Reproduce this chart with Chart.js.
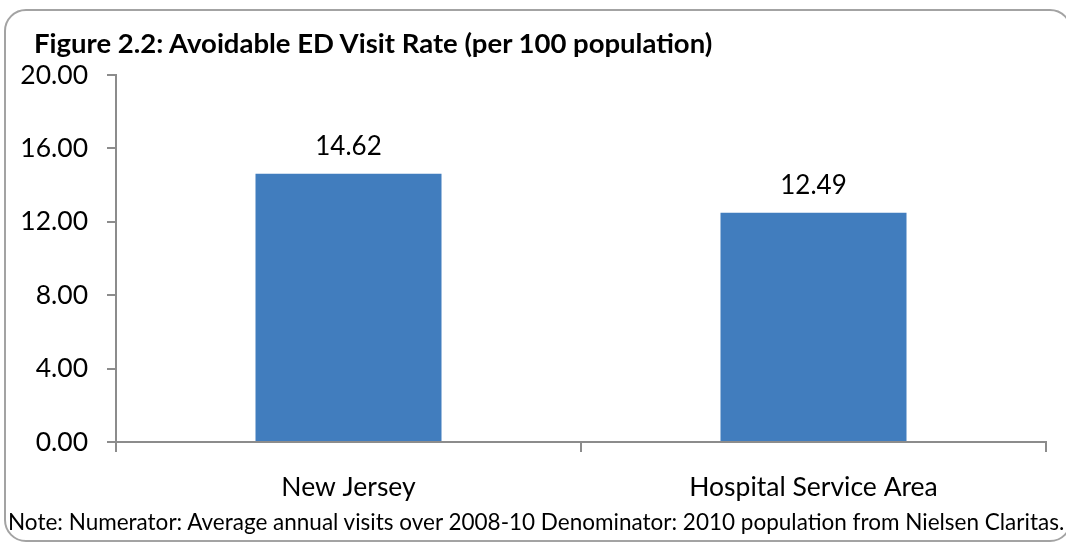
<!DOCTYPE html>
<html>
<head>
<meta charset="utf-8">
<script src="https://cdn.jsdelivr.net/npm/chart.js@4"></script>
<style>
    html, body { margin: 0; padding: 0; background: #fff; overflow: hidden; }
    #wrap { position: relative; width: 1066px; height: 543px; font-family: Lato, 'Open Sans', sans-serif; color: #000; overflow: hidden; }
    #frame { position: absolute; left: 4px; top: 9px; width: 1064px; height: 529px; border: 2px solid #a3a3a3; border-radius: 22px; }
    #title { position: absolute; left: 34px; top: 26px; font-size: 27.5px; font-weight: bold; white-space: nowrap; }
    #note { position: absolute; left: 8px; top: 508px; font-size: 22.5px; white-space: nowrap; }
    canvas { position: absolute; left: 0; top: 0; }
</style>
</head>
<body>
<div id="wrap">
    <div id="frame"></div>
    <canvas id="chart" width="1066" height="543"></canvas>
    <div id="title">Figure 2.2: Avoidable ED Visit Rate (per 100 population)</div>
    <div id="note">Note: Numerator: Average annual visits over 2008-10 Denominator: 2010 population from Nielsen Claritas.</div>
</div>
<script>
// chart data
const categories = ['New Jersey', 'Hospital Service Area'];
const visitRates = [14.62, 12.49];
const yTicks = [0, 4, 8, 12, 16, 20];

const axisColor = '#8c8c8c';

// value labels above the bars
const barLabels = {
    id: 'barLabels',
    afterDatasetsDraw(chart) {
        const ctx = chart.ctx;
        const meta = chart.getDatasetMeta(0);
        ctx.save();
        ctx.font = '26px Lato, sans-serif';
        ctx.fillStyle = '#000';
        ctx.textAlign = 'center';
        ctx.textBaseline = 'middle';
        meta.data.forEach((bar, i) => {
            ctx.fillText(visitRates[i].toFixed(2), bar.x, bar.y - 27);
        });
        ctx.restore();
    }
};

new Chart(document.getElementById('chart').getContext('2d'), {
    type: 'bar',
    data: {
        labels: categories,
        datasets: [{
            data: visitRates,
            backgroundColor: '#417dbe',
            categoryPercentage: 0.4,
            barPercentage: 1
        }]
    },
    options: {
        responsive: false,
        animation: false,
        layout: { padding: { top: 75, right: 20, left: 0, bottom: 0 } },
        plugins: {
            legend: { display: false },
            tooltip: { enabled: false }
        },
        scales: {
            x: {
                grid: { drawOnChartArea: false, drawTicks: true, tickLength: 10, color: axisColor, lineWidth: 2, offset: true },
                border: { color: axisColor, width: 2 },
                ticks: { color: '#000', font: { family: 'Lato', size: 26.5 }, padding: 20 },
                afterFit(scale) { scale.height = 543 - 442; }
            },
            y: {
                min: 0,
                max: 20,
                afterBuildTicks(scale) { scale.ticks = yTicks.map(v => ({ value: v })); },
                grid: { drawOnChartArea: false, drawTicks: true, tickLength: 9, color: axisColor, lineWidth: 2 },
                border: { color: axisColor, width: 2 },
                ticks: {
                    color: '#000',
                    font: { family: 'Lato', size: 26.5 },
                    padding: 19,
                    callback: v => Number(v).toFixed(2)
                },
                afterFit(scale) { scale.width = 116; }
            }
        }
    },
    plugins: [barLabels]
});
</script>
</body>
</html>
